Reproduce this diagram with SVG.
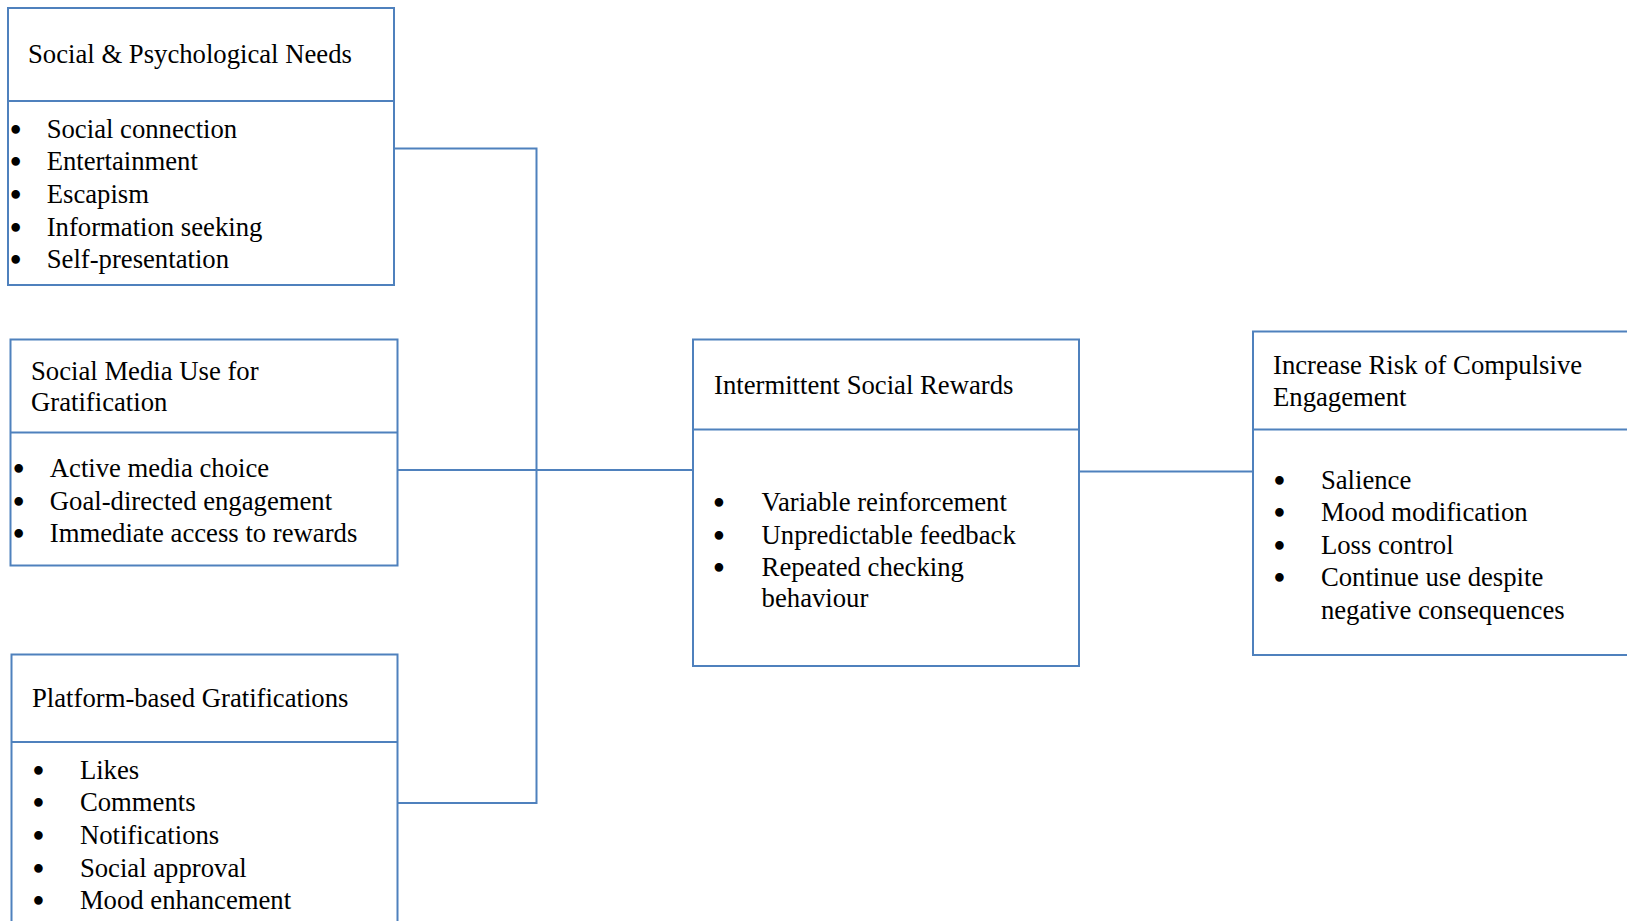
<svg xmlns="http://www.w3.org/2000/svg" width="1627" height="921" viewBox="0 0 1627 921">
<style>
.box{fill:#fff;stroke:#4F81BD;stroke-width:2}
.div{stroke:#4F81BD;stroke-width:2}
.con{fill:none;stroke:#4F81BD;stroke-width:2}
text{font-family:"Liberation Serif","Times New Roman",serif;font-size:26.7px;fill:#000}
.b{text-anchor:middle;stroke:#000;stroke-width:2.2}
</style>
<rect width="1627" height="921" fill="#fff"/>
<g id="connectors">
<polyline class="con" points="394,148.5 536.5,148.5 536.5,803 397,803"/>
<line class="con" x1="397" y1="470" x2="693" y2="470"/>
<line class="con" x1="1079" y1="471.5" x2="1253" y2="471.5"/>
</g>
<g id="needs">
<rect class="box" x="8" y="8" width="386" height="277"/>
<line class="div" x1="8" y1="101" x2="394" y2="101"/>
<text x="28" y="63">Social &amp; Psychological Needs</text>
<text class="b" x="15.6" y="138.5">•</text><text x="46.7" y="137.5">Social connection</text>
<text class="b" x="15.6" y="171.2">•</text><text x="46.7" y="170.2">Entertainment</text>
<text class="b" x="15.6" y="203.9">•</text><text x="46.7" y="202.9">Escapism</text>
<text class="b" x="15.6" y="236.6">•</text><text x="46.7" y="235.6">Information seeking</text>
<text class="b" x="15.6" y="269.3">•</text><text x="46.7" y="268.3">Self-presentation</text>
</g>
<g id="use">
<rect class="box" x="10.5" y="339.5" width="387" height="226"/>
<line class="div" x1="10.5" y1="432.5" x2="397.5" y2="432.5"/>
<text x="31" y="380">Social Media Use for</text>
<text x="31" y="411">Gratification</text>
<text class="b" x="18.7" y="478">•</text><text x="49.8" y="477">Active media choice</text>
<text class="b" x="18.7" y="510.5">•</text><text x="49.8" y="509.5">Goal-directed engagement</text>
<text class="b" x="18.7" y="543">•</text><text x="49.8" y="542">Immediate access to rewards</text>
</g>
<g id="platform">
<rect class="box" x="11.5" y="654.5" width="386" height="300"/>
<line class="div" x1="11.5" y1="742" x2="397.5" y2="742"/>
<text x="32" y="707">Platform-based Gratifications</text>
<text class="b" x="38.4" y="779.5">•</text><text x="79.9" y="778.5">Likes</text>
<text class="b" x="38.4" y="812.2">•</text><text x="79.9" y="811.2">Comments</text>
<text class="b" x="38.4" y="844.9">•</text><text x="79.9" y="843.9">Notifications</text>
<text class="b" x="38.4" y="877.6">•</text><text x="79.9" y="876.6">Social approval</text>
<text class="b" x="38.4" y="910.3">•</text><text x="79.9" y="909.3">Mood enhancement</text>
</g>
<g id="rewards">
<rect class="box" x="693" y="339.5" width="386" height="326.5"/>
<line class="div" x1="693" y1="429.5" x2="1079" y2="429.5"/>
<text x="714" y="393.5">Intermittent Social Rewards</text>
<text class="b" x="719" y="512">•</text><text x="761.6" y="511">Variable reinforcement</text>
<text class="b" x="719" y="544.7">•</text><text x="761.6" y="543.7">Unpredictable feedback</text>
<text class="b" x="719" y="577.4">•</text><text x="761.6" y="576.4">Repeated checking</text>
<text x="761.6" y="607">behaviour</text>
</g>
<g id="risk">
<rect class="box" x="1253" y="331.5" width="400" height="323.5"/>
<line class="div" x1="1253" y1="429.5" x2="1653" y2="429.5"/>
<text x="1273" y="374">Increase Risk of Compulsive</text>
<text x="1273" y="406">Engagement</text>
<text class="b" x="1279.4" y="489.5">•</text><text x="1320.9" y="488.5">Salience</text>
<text class="b" x="1279.4" y="522">•</text><text x="1320.9" y="521">Mood modification</text>
<text class="b" x="1279.4" y="554.5">•</text><text x="1320.9" y="553.5">Loss control</text>
<text class="b" x="1279.4" y="587">•</text><text x="1320.9" y="586">Continue use despite</text>
<text x="1320.9" y="618.5">negative consequences</text>
</g>
</svg>
